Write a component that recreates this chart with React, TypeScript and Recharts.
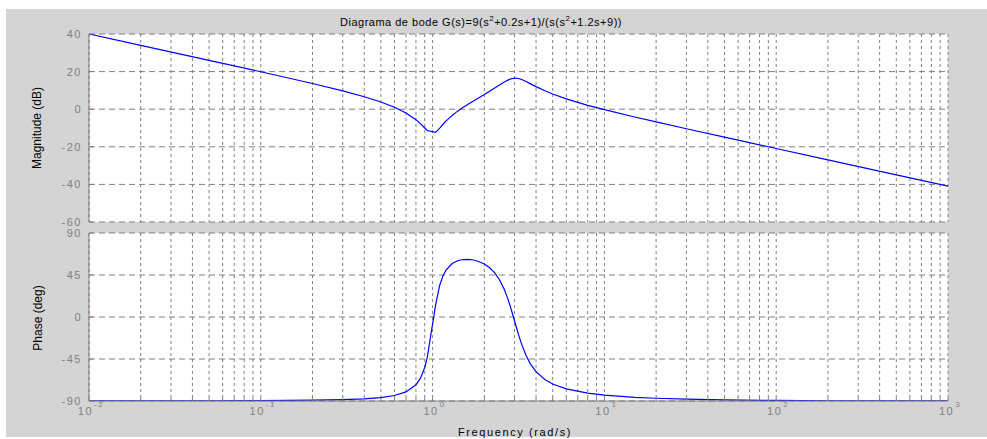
import React from 'react';
import { LineChart, Line, XAxis, YAxis, CartesianGrid } from 'recharts';

// frequencies (rad/s) read along the log axis
const freq = [0.01, 0.02, 0.05, 0.1, 0.2, 0.3, 0.4, 0.5, 0.6, 0.7, 0.8, 0.85, 0.9, 0.93, 1.04, 1.1, 1.15, 1.2, 1.3, 1.4, 1.5, 1.6, 1.7, 1.8, 2, 2.15, 2.3, 2.45, 2.6, 2.7, 2.8, 2.9, 3, 3.1, 3.2, 3.3, 3.5, 3.7, 4, 4.5, 5, 6, 8, 10, 15, 20, 30, 50, 100, 200, 500, 1000];
// magnitude in dB
const magnitude = [40.0, 33.98, 26.0, 19.92, 13.67, 9.74, 6.63, 3.82, 1.04, -1.99, -5.57, -7.68, -9.98, -11.34, -12.35, -10.04, -8.01, -6.22, -3.31, -1.03, 0.86, 2.5, 3.96, 5.31, 7.8, 9.56, 11.25, 12.86, 14.34, 15.18, 15.86, 16.31, 16.51, 16.45, 16.2, 15.79, 14.74, 13.6, 12.0, 9.8, 8.06, 5.48, 2.07, -0.26, -4.15, -6.78, -10.39, -14.87, -20.91, -26.93, -34.89, -40.92];
// phase in degrees
const phase = [-89.96, -89.92, -89.81, -89.61, -89.15, -88.54, -87.67, -86.33, -84.14, -80.29, -72.59, -65.54, -54.06, -43.81, 12.46, 34.05, 44.32, 50.61, 57.3, 60.32, 61.57, 61.81, 61.34, 60.31, 56.77, 52.71, 47.23, 39.96, 30.52, 22.91, 14.37, 5.14, -4.29, -13.43, -21.86, -29.33, -41.29, -49.91, -58.61, -67.04, -71.83, -77.03, -81.55, -83.65, -86.01, -87.06, -88.07, -88.85, -89.43, -89.71, -89.89, -89.94];

const decades = [0.01, 0.1, 1, 10, 100];
const decadeExp: Record<string, string> = { '0.01': '-2', '0.1': '-1', '1': '0', '10': '1', '100': '2', '1000': '3' };
const magTicks = [-60, -40, -20, 0, 20, 40];
const phaseTicks = [-90, -45, 0, 45, 90];

const gridTicks = [...decades.flatMap((d) => [1, 2, 3, 4, 5, 6, 7, 8, 9].map((m) => +(m * d).toPrecision(3))), 1000];

const data = freq.map((w, i) => ({ w, mag: magnitude[i], ph: phase[i] }));

const GRID = '#808080';
const tickFont = { fill: '#808080', fontSize: 11, fontFamily: 'Liberation Sans, Arial, sans-serif', letterSpacing: 1.5 };

function NoTick() {
  return null;
}

function FreqTick(props: any) {
  const { x, y, payload } = props;
  const exp = decadeExp[String(payload.value)];
  if (exp === undefined) return null;
  return (
    <text x={x + 2} y={y + 14} textAnchor="middle" fill="#808080" fontSize={11} fontFamily="Liberation Sans, Arial, sans-serif" letterSpacing={1.5}>
      <tspan>10</tspan>
      <tspan dy={-8} dx={1} fontSize={8}>{exp}</tspan>
    </text>
  );
}

export default function App() {
  const xCommon = {
    dataKey: 'w',
    type: 'number' as const,
    scale: 'log' as const,
    domain: [0.01, 1000],
    allowDataOverflow: true,
    ticks: gridTicks,
    interval: 0 as const,
    axisLine: { stroke: GRID },
    tickLine: { stroke: GRID },
    tickSize: -3,
  };

  return (
    <div style={{ position: 'absolute', left: 0, top: 0, width: 987, height: 439, background: '#fff', overflow: 'hidden' }}>
      <div style={{ position: 'absolute', left: 6, top: 9, width: 981, height: 428, background: '#d4d4d4' }} />

      <div style={{ position: 'absolute', left: 0, top: 14, width: 962, textAlign: 'center', fontFamily: 'Liberation Sans, Arial, sans-serif', fontSize: 11, letterSpacing: 0.5, color: '#000', whiteSpace: 'nowrap' }}>
        Diagrama de bode G(s)=9(s<sup style={{ fontSize: 8 }}>2</sup>+0.2s+1)/(s(s<sup style={{ fontSize: 8 }}>2</sup>+1.2s+9))
      </div>

      <div style={{ position: 'absolute', left: 37, top: 128, transform: 'translate(-50%, -50%) rotate(-90deg)', fontFamily: 'Liberation Sans Narrow, Arial Narrow, Arial, sans-serif', fontSize: 12, whiteSpace: 'nowrap' }}>
        Magnitude (dB)
      </div>
      <div style={{ position: 'absolute', left: 38, top: 318, transform: 'translate(-50%, -50%) rotate(-90deg)', fontFamily: 'Liberation Sans Narrow, Arial Narrow, Arial, sans-serif', fontSize: 12, whiteSpace: 'nowrap' }}>
        Phase (deg)
      </div>
      <div style={{ position: 'absolute', left: 515, top: 432, transform: 'translate(-50%, -50%)', fontFamily: 'Liberation Sans, Arial, sans-serif', fontSize: 11, letterSpacing: 1.6, whiteSpace: 'nowrap' }}>
        Frequency  (rad/s)
      </div>

      <div style={{ position: 'absolute', left: 0, top: 0 }}>
        <LineChart width={987} height={230} data={data} margin={{ top: 34, right: 39, bottom: 8, left: 49 }}>
          <CartesianGrid vertical={false} stroke={GRID} strokeDasharray="6 4" fill="#fff" horizontalValues={magTicks} />
          <CartesianGrid horizontal={false} stroke={GRID} strokeDasharray="3 3" />
          <XAxis {...xCommon} height={0} tick={<NoTick />} />
          <XAxis {...xCommon} xAxisId="top" orientation="top" height={0} tick={<NoTick />} />
          <YAxis type="number" domain={[-60, 40]} ticks={magTicks} interval={0} width={40} axisLine={{ stroke: GRID }} tickLine={{ stroke: GRID }} tickSize={-4} tickMargin={11} tick={tickFont} allowDataOverflow />
          <YAxis yAxisId="right" orientation="right" type="number" domain={[-60, 40]} ticks={magTicks} interval={0} width={0} axisLine={{ stroke: GRID }} tickLine={{ stroke: GRID }} tickSize={-4} tick={<NoTick />} allowDataOverflow />
          <Line type="linear" dataKey="mag" stroke="#0000ff" strokeWidth={1.2} dot={false} isAnimationActive={false} />
        </LineChart>
      </div>

      <div style={{ position: 'absolute', left: 0, top: 225 }}>
        <LineChart width={987} height={214} data={data} margin={{ top: 8, right: 39, bottom: 8, left: 49 }}>
          <CartesianGrid vertical={false} stroke={GRID} strokeDasharray="6 4" fill="#fff" horizontalValues={phaseTicks} />
          <CartesianGrid horizontal={false} stroke={GRID} strokeDasharray="3 3" />
          <XAxis {...xCommon} height={30} tickMargin={3} tick={<FreqTick />} />
          <XAxis {...xCommon} xAxisId="top" orientation="top" height={0} tick={<NoTick />} />
          <YAxis type="number" domain={[-90, 90]} ticks={phaseTicks} interval={0} width={40} axisLine={{ stroke: GRID }} tickLine={{ stroke: GRID }} tickSize={-4} tickMargin={11} tick={tickFont} allowDataOverflow />
          <YAxis yAxisId="right" orientation="right" type="number" domain={[-90, 90]} ticks={phaseTicks} interval={0} width={0} axisLine={{ stroke: GRID }} tickLine={{ stroke: GRID }} tickSize={-4} tick={<NoTick />} allowDataOverflow />
          <Line type="linear" dataKey="ph" stroke="#0000ff" strokeWidth={1.2} dot={false} isAnimationActive={false} />
        </LineChart>
      </div>
    </div>
  );
}
